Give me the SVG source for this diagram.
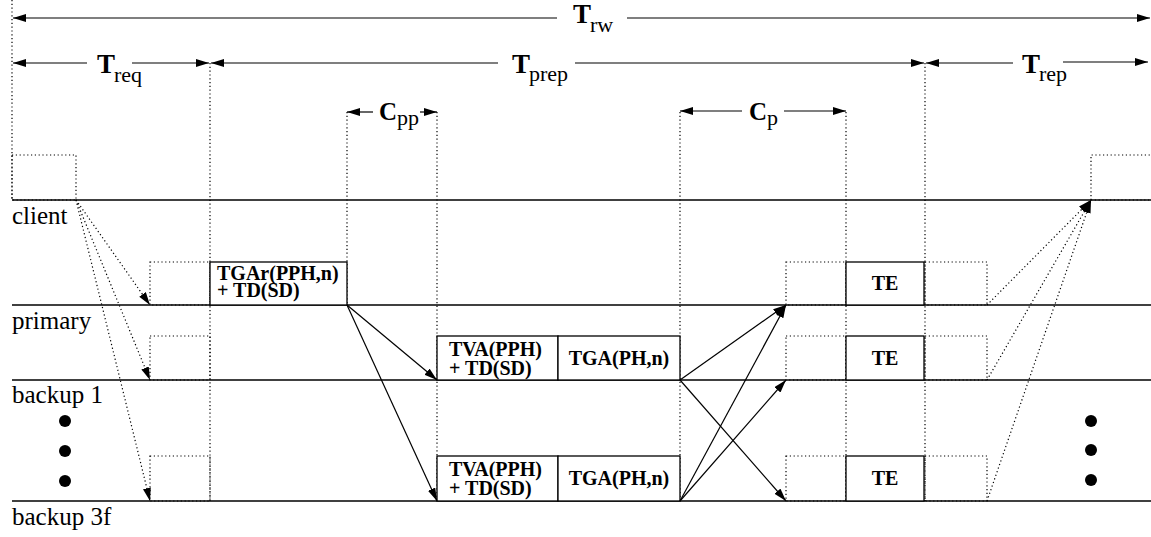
<svg xmlns="http://www.w3.org/2000/svg" width="1151" height="537" viewBox="0 0 1151 537" font-family="'Liberation Serif', 'DejaVu Serif', serif">
<style>
.bg{fill:#fff}
.lane{stroke:#000;stroke-width:1.3;fill:none}
.dot{stroke:#000;stroke-width:1.2;stroke-dasharray:1.2 2.6;fill:none}
.sol{stroke:#000;stroke-width:1.2;fill:none}
.box{stroke:#000;stroke-width:1.3;fill:#fff}
text{font-family:'Liberation Serif','DejaVu Serif',serif;fill:#000}
.lbl{font-size:25px}
.bt{font-size:20px;font-weight:bold}
.big{font-size:27px;font-weight:bold}
.cbig{font-size:25px;font-weight:bold}
.sub{font-size:22px}
</style>
<defs>
<marker id="ah" markerUnits="userSpaceOnUse" markerWidth="14" markerHeight="10" refX="13" refY="4" orient="auto">
<path d="M0,0 L13,4 L0,8 Z" fill="#000"/>
</marker>
</defs>
<rect class="bg" x="0" y="0" width="1151" height="537"/>

<g id="lanes">
<line class="lane" x1="12" y1="200" x2="1151" y2="200"/>
<line class="lane" x1="12" y1="305" x2="1151" y2="305"/>
<line class="lane" x1="12" y1="380" x2="1151" y2="380"/>
<line class="lane" x1="12" y1="501" x2="1151" y2="501"/>
<text class="lbl" x="12" y="224">client</text>
<text class="lbl" x="12" y="329">primary</text>
<text class="lbl" x="12" y="403">backup 1</text>
<text class="lbl" x="12" y="525">backup 3f</text>
</g>

<g id="guides">
<line class="dot" x1="12" y1="0" x2="12" y2="200"/>
<line class="dot" x1="210" y1="63" x2="210" y2="501"/>
<line class="dot" x1="347" y1="112" x2="347" y2="305"/>
<line class="dot" x1="437" y1="112" x2="437" y2="501"/>
<line class="dot" x1="680" y1="112" x2="680" y2="501"/>
<line class="dot" x1="846" y1="112" x2="846" y2="501"/>
<line class="dot" x1="925" y1="63" x2="925" y2="501"/>
</g>

<g id="dotted-boxes">
<rect class="dot" x="12" y="155" width="64" height="45"/>
<rect class="dot" x="150" y="262" width="60" height="43"/>
<rect class="dot" x="150" y="336" width="60" height="44"/>
<rect class="dot" x="150" y="456" width="60" height="45"/>
<rect class="dot" x="786" y="262" width="60" height="43"/>
<rect class="dot" x="786" y="336" width="60" height="44"/>
<rect class="dot" x="786" y="456" width="60" height="45"/>
<rect class="dot" x="925" y="262" width="62" height="43"/>
<rect class="dot" x="925" y="336" width="62" height="44"/>
<rect class="dot" x="925" y="456" width="62" height="45"/>
<path class="dot" d="M1091,200 L1091,155 L1151,155 M1091,200 L1151,200"/>
</g>

<g id="node-tgar">
<rect class="box" x="210" y="262" width="137" height="43"/>
<text class="bt"><tspan x="217" y="280">TGAr(PPH,n)</tspan><tspan x="217" y="297">+ TD(SD)</tspan></text>
</g>
<g id="node-tva-b1">
<rect class="box" x="437" y="336" width="121" height="44"/>
<text class="bt"><tspan x="449" y="356">TVA(PPH)</tspan><tspan x="449" y="375">+ TD(SD)</tspan></text>
</g>
<g id="node-tga-b1">
<rect class="box" x="558" y="336" width="122" height="44"/>
<text class="bt" x="619" y="365" text-anchor="middle">TGA(PH,n)</text>
</g>
<g id="node-tva-b3f">
<rect class="box" x="437" y="456" width="121" height="45"/>
<text class="bt"><tspan x="449" y="476">TVA(PPH)</tspan><tspan x="449" y="495">+ TD(SD)</tspan></text>
</g>
<g id="node-tga-b3f">
<rect class="box" x="558" y="456" width="122" height="45"/>
<text class="bt" x="619" y="485" text-anchor="middle">TGA(PH,n)</text>
</g>
<g id="node-te-p">
<rect class="box" x="846" y="262" width="78" height="43"/>
<text class="bt" x="885" y="290" text-anchor="middle">TE</text>
</g>
<g id="node-te-b1">
<rect class="box" x="846" y="336" width="78" height="44"/>
<text class="bt" x="885" y="365" text-anchor="middle">TE</text>
</g>
<g id="node-te-b3f">
<rect class="box" x="846" y="456" width="78" height="45"/>
<text class="bt" x="885" y="485" text-anchor="middle">TE</text>
</g>

<g id="dots">
<circle cx="65" cy="421" r="6"/>
<circle cx="65" cy="451" r="6"/>
<circle cx="65" cy="481" r="6"/>
<circle cx="1091" cy="421" r="6"/>
<circle cx="1091" cy="450" r="6"/>
<circle cx="1091" cy="480" r="6"/>
</g>

<g id="timing">
<line class="sol" x1="557" y1="18" x2="13" y2="18" marker-end="url(#ah)"/>
<line class="sol" x1="627" y1="18" x2="1150" y2="18" marker-end="url(#ah)"/>
<text class="big" x="573" y="23">T</text><text class="sub" x="590" y="32">rw</text>

<line class="sol" x1="87" y1="63" x2="13" y2="63" marker-end="url(#ah)"/>
<line class="sol" x1="132" y1="63" x2="209" y2="63" marker-end="url(#ah)"/>
<text class="big" x="97" y="73">T</text><text class="sub" x="114" y="82">req</text>

<line class="sol" x1="498" y1="63" x2="211" y2="63" marker-end="url(#ah)"/>
<line class="sol" x1="575" y1="63" x2="924" y2="63" marker-end="url(#ah)"/>
<text class="big" x="512" y="73">T</text><text class="sub" x="529" y="81">prep</text>

<line class="sol" x1="1013" y1="63" x2="926" y2="63" marker-end="url(#ah)"/>
<line class="sol" x1="1063" y1="62" x2="1148" y2="62" marker-end="url(#ah)"/>
<text class="big" x="1022" y="73">T</text><text class="sub" x="1039" y="81">rep</text>

<line class="sol" x1="373" y1="112" x2="347" y2="112" marker-end="url(#ah)"/>
<line class="sol" x1="420" y1="112" x2="437" y2="112" marker-end="url(#ah)"/>
<text class="cbig" x="379" y="120">C</text><text class="sub" x="397" y="125">pp</text>

<line class="sol" x1="742" y1="111" x2="680" y2="111" marker-end="url(#ah)"/>
<line class="sol" x1="784" y1="111" x2="846" y2="111" marker-end="url(#ah)"/>
<text class="cbig" x="749" y="120">C</text><text class="sub" x="767" y="125">p</text>
</g>

<g id="connectors">
<line class="dot" x1="76" y1="200" x2="150" y2="305" marker-end="url(#ah)"/>
<line class="dot" x1="76" y1="200" x2="150" y2="380" marker-end="url(#ah)"/>
<line class="dot" x1="76" y1="200" x2="150" y2="501" marker-end="url(#ah)"/>
<line class="sol" x1="347" y1="305" x2="437" y2="380" marker-end="url(#ah)"/>
<line class="sol" x1="347" y1="305" x2="437" y2="501" marker-end="url(#ah)"/>
<line class="sol" x1="680" y1="380" x2="786" y2="305" marker-end="url(#ah)"/>
<line class="sol" x1="680" y1="380" x2="786" y2="501" marker-end="url(#ah)"/>
<line class="sol" x1="680" y1="501" x2="786" y2="305" marker-end="url(#ah)"/>
<line class="sol" x1="680" y1="501" x2="786" y2="380" marker-end="url(#ah)"/>
<line class="dot" x1="987" y1="305" x2="1091" y2="200" marker-end="url(#ah)"/>
<line class="dot" x1="987" y1="380" x2="1091" y2="200" marker-end="url(#ah)"/>
<line class="dot" x1="987" y1="501" x2="1091" y2="200" marker-end="url(#ah)"/>
</g>
</svg>
